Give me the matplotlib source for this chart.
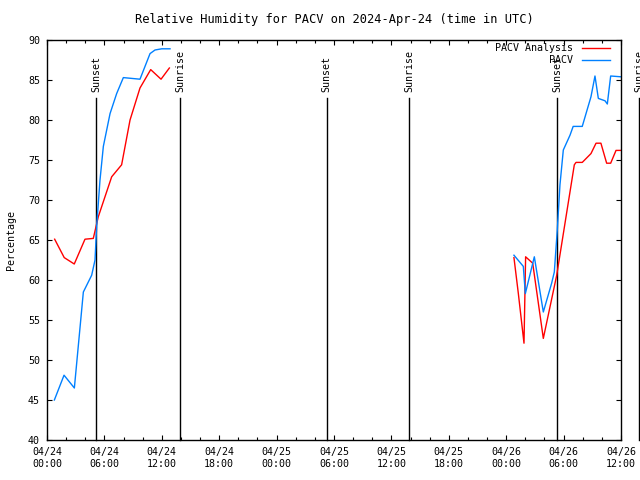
import matplotlib
matplotlib.use("Agg")
import matplotlib.pyplot as plt
import numpy as np

nan = np.nan

# hours since 2024-04-24 00:00 UTC
ana_hours = [0.8, 1.8, 2.85, 3.97, 4.84, 5.36, 6.76, 7.8, 8.68, 9.72, 10.84, 11.92, 12.79,
             nan,
             48.81, 49.27, 49.86, 50.03, 50.77, 51.88, 53.28, 55.12, 55.3, 55.95, 56.86,
             57.39, 57.9, 58.5, 58.92, 59.48, 60.0]
ana_vals = [65.1, 62.8, 62.0, 65.1, 65.2, 67.9, 72.9, 74.4, 80.0, 84.0, 86.3, 85.1, 86.5,
            nan,
            62.8, 58.3, 52.1, 62.9, 62.1, 52.7, 60.6, 74.4, 74.7, 74.7, 75.8,
            77.1, 77.1, 74.6, 74.6, 76.2, 76.2]

obs_hours = [0.77, 1.78, 2.86, 3.8, 4.67, 5.02, 5.19, 5.54, 5.89, 6.59, 7.28, 7.98, 9.72,
             10.77, 11.29, 11.99, 12.86,
             nan,
             48.81, 49.79, 50.0, 50.94, 51.88, 52.75, 53.03, 53.34, 53.62, 53.97, 54.67,
             55.0, 55.95, 56.86, 57.28, 57.63, 58.33, 58.57, 58.92, 60.0]
obs_vals = [45.0, 48.1, 46.5, 58.5, 60.6, 62.5, 66.7, 72.5, 76.7, 80.8, 83.3, 85.3, 85.1,
            88.3, 88.75, 88.9, 88.9,
            nan,
            63.1, 61.7, 58.3, 62.9, 56.0, 59.6, 61.0, 66.25, 71.9, 76.25, 78.1,
            79.2, 79.2, 82.9, 85.5, 82.7, 82.4, 82.0, 85.5, 85.4]

sun_hours = [5.15, 13.93, 29.23, 37.84, 53.31, 61.9]
sun_labels = ["Sunset", "Sunrise", "Sunset", "Sunrise", "Sunset", "Sunrise"]

tick_hours = list(range(0, 61, 6))
tick_labels = ["04/24\n00:00", "04/24\n06:00", "04/24\n12:00", "04/24\n18:00",
               "04/25\n00:00", "04/25\n06:00", "04/25\n12:00", "04/25\n18:00",
               "04/26\n00:00", "04/26\n06:00", "04/26\n12:00"]

plt.rcParams['font.family'] = 'DejaVu Sans Mono'
plt.rcParams['font.size'] = 7.2

fig = plt.figure(figsize=(6.4, 4.8), dpi=100)
ax = fig.add_axes([47/640, 40/480, 574/640, 400/480])

for h, lab in zip(sun_hours, sun_labels):
    ax.axvline(h, ymin=0, ymax=0.855, color='black', lw=1.0, clip_on=False)
    ax.text(h, 0.87, lab, transform=ax.get_xaxis_transform(), rotation=90,
            ha='center', va='bottom', clip_on=False)

ax.plot(ana_hours, ana_vals, color='#ff0000', lw=1.0, label='PACV Analysis')
ax.plot(obs_hours, obs_vals, color='#0080ff', lw=1.0, label='PACV')

ax.set_xlim(0, 60)
ax.set_ylim(40, 90)
ax.set_xticks(tick_hours)
ax.set_xticklabels(tick_labels)
ax.set_xticks(range(0, 61, 2), minor=True)
ax.set_yticks(range(40, 91, 5))

ax.tick_params(which='both', direction='in', top=True, right=True, width=0.8)
ax.tick_params(which='major', length=3.5, pad=5)
ax.tick_params(which='minor', length=2)
for s in ax.spines.values():
    s.set_linewidth(1.0)

ax.set_title("Relative Humidity for PACV on 2024-Apr-24 (time in UTC)", pad=12)
ax.set_ylabel("Percentage")
ax.yaxis.set_label_coords(-0.054, 0.5)

ax.legend(loc='upper right', bbox_to_anchor=(0.981, 0.992), frameon=False,
          markerfirst=False, handlelength=2.8, handletextpad=0.9,
          labelspacing=0.2, borderpad=0, borderaxespad=0)

fig.savefig("out.png", dpi=100)
